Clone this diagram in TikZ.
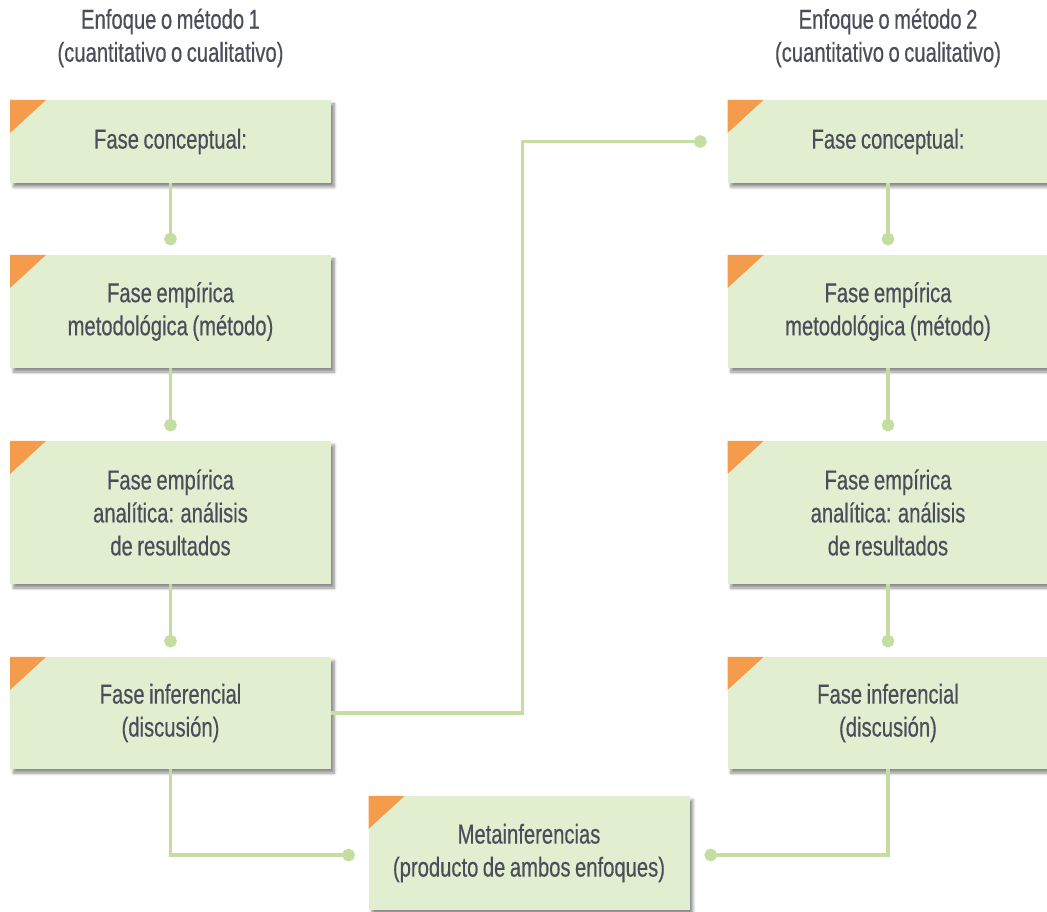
\documentclass[tikz,border=0pt]{standalone}
\usepackage{fontspec}
\setmainfont[FakeStretch=0.74,WordSpace=0.8,FakeBold=0.4]{Liberation Sans}
\usetikzlibrary{arrows.meta,shadows.blur}
\definecolor{boxgreen}{HTML}{E2EED0}
\definecolor{linegreen}{HTML}{C4DDA0}
\definecolor{tri}{HTML}{F59B4C}
\definecolor{txt}{HTML}{4B4D5A}
\tikzset{
  fase/.style={fill=boxgreen,minimum width=240.75pt,align=center,
    inner sep=0pt,text=txt,font=\fontsize{20.5pt}{24.75pt}\selectfont,
    blur shadow={shadow xshift=2.5pt,shadow yshift=-3pt,shadow blur steps=6,shadow opacity=45},
    path picture={\fill[tri] (path picture bounding box.north west) -- ++(27pt,0)
      -- ++(-27pt,-24.75pt) -- cycle;}},
  head/.style={align=center,text=txt,font=\fontsize{20.5pt}{24.75pt}\selectfont},
  link/.style={draw=linegreen,line width=2.3pt,-{Circle[length=9.5pt]}}
}
\begin{document}
\begin{tikzpicture}[x=0.75pt,y=-0.75pt]
\useasboundingbox (0,0) rectangle (1047,912);
\node[head] (h1) at (170.5,38) {Enfoque o método 1\\(cuantitativo o cualitativo)};
\node[head] (h2) at (888,38) {Enfoque o método 2\\(cuantitativo o cualitativo)};
\node[fase,minimum height=62.25pt] (l1) at (170.5,141.5) {Fase conceptual:};
\node[fase,minimum height=84.75pt] (l2) at (170.5,311.5) {Fase empírica\\metodológica (método)};
\node[fase,minimum height=107.25pt] (l3) at (170.5,512.5) {Fase empírica\\analítica: análisis\\de resultados};
\node[fase,minimum height=84pt] (l4) at (170.5,713) {Fase inferencial\\(discusión)};
\node[fase,minimum height=62.25pt] (r1) at (888,141.5) {Fase conceptual:};
\node[fase,minimum height=84.75pt] (r2) at (888,311.5) {Fase empírica\\metodológica (método)};
\node[fase,minimum height=107.25pt] (r3) at (888,512.5) {Fase empírica\\analítica: análisis\\de resultados};
\node[fase,minimum height=84pt] (r4) at (888,713) {Fase inferencial\\(discusión)};
\node[fase,minimum height=85.5pt] (meta) at (529,853) {Metainferencias\\(producto de ambos enfoques)};
\draw[link] (l1.south) -- ([yshift=7pt]l2.north);
\draw[link] (l2.south) -- ([yshift=7pt]l3.north);
\draw[link] (l3.south) -- ([yshift=7pt]l4.north);
\draw[link] (r1.south) -- ([yshift=7pt]r2.north);
\draw[link] (r2.south) -- ([yshift=7pt]r3.north);
\draw[link] (r3.south) -- ([yshift=7pt]r4.north);
\draw[link] (l4.east) -- ++(191,0) |- ([xshift=-15.5pt]r1.west);
\draw[link] (l4.south) |- ([xshift=-10pt,yshift=-1.5pt]meta.west);
\draw[link] (r4.south) |- ([xshift=11pt,yshift=-1.5pt]meta.east);
\end{tikzpicture}
\end{document}
